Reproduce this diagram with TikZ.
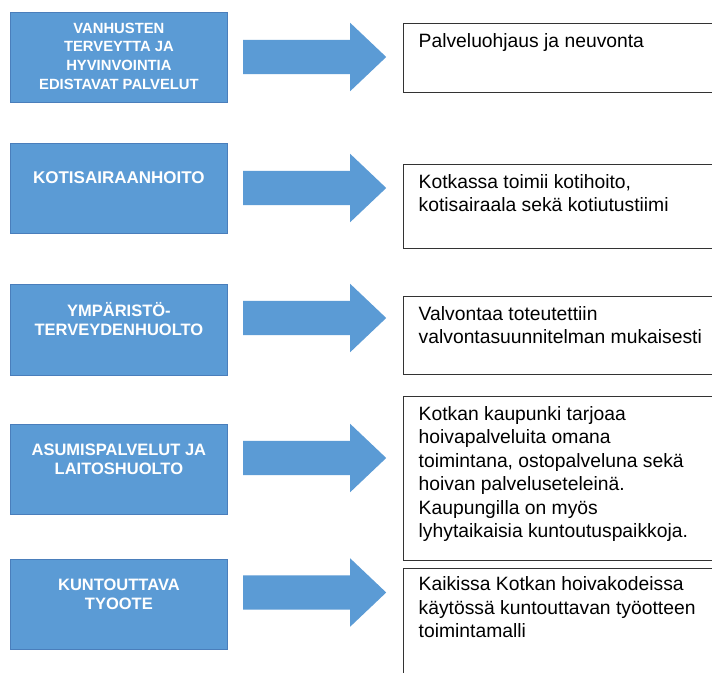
\documentclass[tikz,border=0pt]{standalone}
\usepackage{fontspec}
\setmainfont{Liberation Sans}
\usetikzlibrary{shapes.arrows,calc}
\definecolor{boxblue}{HTML}{5B9BD5}
\definecolor{boxedge}{HTML}{4A7EBB}
\definecolor{framegray}{HTML}{333333}

\begin{document}
\begin{tikzpicture}[x=1pt,y=-1pt,
  topic/.style={rectangle, fill=boxblue, draw=boxedge, line width=0.8pt,
    minimum width=217pt, minimum height=90pt, inner sep=0pt, anchor=north west},
  topictext/.style={text=white, font=\bfseries\fontsize{16.5}{19}\selectfont,
    align=center, anchor=base, inner sep=0pt},
  blockarrow/.style={shape=single arrow, fill=boxblue, draw=none,
    inner xsep=0pt, inner ysep=17pt, single arrow head extend=17pt,
    single arrow tip angle=87, minimum height=143pt, anchor=tail},
  infobox/.style={rectangle, draw=framegray, line width=1.3pt, fill=white,
    minimum width=320pt, inner sep=0pt, anchor=north west},
  infotext/.style={font=\fontsize{19.3}{23.5}\selectfont, align=left,
    anchor=base west, inner sep=0pt}
]
\clip (0,0) rectangle (712,672);
\fill[white] (0,0) rectangle (712,672);

% service areas (left column)
\node[topic] (b1) at (10,12) {};
\node[topic] (b2) at (10,143) {};
\node[topic, minimum height=91pt] (b3) at (10,284) {};
\node[topic] (b4) at (10,424) {};
\node[topic] (b5) at (10,559) {};

% multi-line texts are placed by the baseline of their last line
\node[topictext, font=\bfseries\fontsize{14.8}{18.7}\selectfont] (t1)
  at ($(b1.north)+(0,77.1)$) {VANHUSTEN\\TERVEYTTA JA\\HYVINVOINTIA\\EDISTAVAT PALVELUT};
\node[topictext, font=\bfseries\fontsize{17}{19}\selectfont] (t2)
  at ($(b2.north)+(0,40)$) {KOTISAIRAANHOITO};
\node[topictext] (t3) at ($(b3.north)+(0,51)$) {YMPÄRISTÖ-\\TERVEYDENHUOLTO};
\node[topictext] (t4) at ($(b4.north)+(0,50)$) {ASUMISPALVELUT JA\\LAITOSHUOLTO};
\node[topictext] (t5) at ($(b5.north)+(0,50)$) {KUNTOUTTAVA\\TYOOTE};

% block arrows
\node[blockarrow] (a1) at (243,57) {};
\node[blockarrow] (a2) at (243,188) {};
\node[blockarrow] (a3) at (243,318) {};
\node[blockarrow] (a4) at (243,458) {};
\node[blockarrow] (a5) at (243,592.5) {};

% descriptions (right column)
\node[infobox, minimum height=69pt] (r1) at (402.5,23) {};
\node[infobox, minimum height=84pt] (r2) at (402.5,164) {};
\node[infobox, minimum height=78pt] (r3) at (402.5,296) {};
\node[infobox, minimum height=163.5pt] (r4) at (402.5,396) {};
\node[infobox, minimum height=125pt] (r5) at (402.5,567.5) {};

\node[infotext] (d1) at ($(r1.north west)+(16,24)$) {Palveluohjaus ja neuvonta};
\node[infotext] (d2) at ($(r2.north west)+(16,47.5)$)
  {Kotkassa toimii kotihoito,\\kotisairaala sekä kotiutustiimi};
\node[infotext] (d3) at ($(r3.north west)+(16,47.5)$)
  {Valvontaa toteutettiin\\valvontasuunnitelman mukaisesti};
\node[infotext] (d4) at ($(r4.north west)+(16,141.5)$)
  {Kotkan kaupunki tarjoaa\\hoivapalveluita omana\\toimintana, ostopalveluna sekä\\hoivan palveluseteleinä.\\Kaupungilla on myös\\lyhytaikaisia kuntoutuspaikkoja.};
\node[infotext] (d5) at ($(r5.north west)+(16,70)$)
  {Kaikissa Kotkan hoivakodeissa\\käytössä kuntouttavan työotteen\\toimintamalli};
\end{tikzpicture}
\end{document}
